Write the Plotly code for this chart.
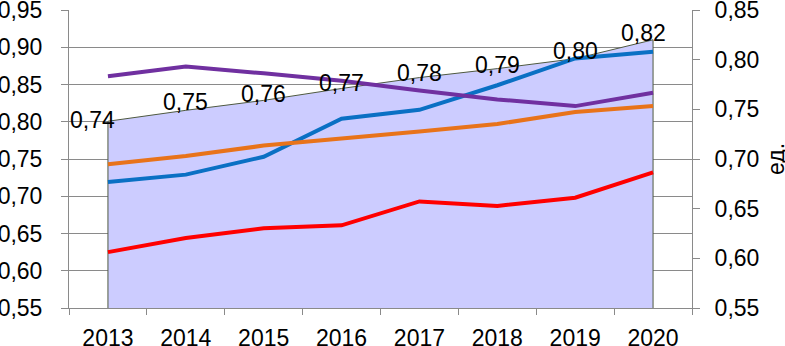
import plotly.graph_objects as go

YEARS = ["2013", "2014", "2015", "2016", "2017", "2018", "2019", "2020"]

# right axis (ед.) – area series
AREA = [0.738, 0.749, 0.759, 0.771, 0.782, 0.791, 0.801, 0.820]

# left axis – line series
BLUE = [0.719, 0.729, 0.753, 0.804, 0.816, 0.849, 0.885, 0.894]
ORANGE = [0.743, 0.754, 0.768, 0.777, 0.787, 0.797, 0.813, 0.821]
PURPLE = [0.861, 0.874, 0.865, 0.855, 0.842, 0.830, 0.821, 0.839]
RED = [0.625, 0.644, 0.657, 0.661, 0.693, 0.687, 0.698, 0.732]

LEFT_TICKS = [0.55, 0.60, 0.65, 0.70, 0.75, 0.80, 0.85, 0.90, 0.95]
RIGHT_TICKS = [0.55, 0.60, 0.65, 0.70, 0.75, 0.80, 0.85]
RIGHT_TITLE = "ед."

FONT = "Liberation Sans, Arial, sans-serif"
FS = 23
GRID = "#8a8a8a"
EPS = 1e-6

fig = go.Figure()

# area as closed polygon down to the right-axis minimum
y2min = RIGHT_TICKS[0]
fig.add_trace(go.Scatter(
    x=[YEARS[0]] + YEARS + [YEARS[-1]],
    y=[y2min] + AREA + [y2min],
    fill="toself", fillcolor="#CCCCFF",
    mode="lines", line=dict(color="#4f5a40", width=1),
    yaxis="y", hoverinfo="skip", showlegend=False,
))

for vals, col in [(BLUE, "#0A70C4"), (ORANGE, "#E8731A"), (PURPLE, "#7030A0"), (RED, "#FF0000")]:
    fig.add_trace(go.Scatter(
        x=YEARS, y=vals, mode="lines",
        line=dict(color=col, width=4),
        yaxis="y2", showlegend=False,
    ))

xshifts = [-15, 0, 0, 0, 0, 0, 0, -10]
yshifts = [1, 8, 6, 5, 5, 4, 8, 7]
for i, v in enumerate(AREA):
    fig.add_annotation(
        x=i, y=v, xref="x", yref="y",
        text=f"{v:.2f}".replace(".", ","), showarrow=False,
        xanchor="center", yanchor="middle",
        xshift=xshifts[i], yshift=yshifts[i],
        font=dict(family=FONT, size=FS, color="black"),
    )

fig.add_annotation(
    xref="paper", yref="paper", x=1, y=0.5, xanchor="center", yanchor="middle",
    xshift=84, text=RIGHT_TITLE, textangle=-90, showarrow=False,
    font=dict(family=FONT, size=FS, color="black"),
)

fig.update_layout(
    width=785, height=346,
    margin=dict(l=69, r=93, t=10, b=38, autoexpand=False),
    paper_bgcolor="white", plot_bgcolor="white",
    separators=", ",
    font=dict(family=FONT, size=FS, color="black"),
    showlegend=False,
    xaxis=dict(
        type="category", range=[-0.5, 7.5], tickson="boundaries",
        ticks="outside", ticklen=6, tickcolor=GRID, tickwidth=1,
        showline=True, linecolor=GRID, linewidth=1,
        showgrid=False, ticklabelstandoff=9, automargin=False,
        ticklabeloverflow="allow",
        tickfont=dict(family=FONT, size=FS),
    ),
    yaxis=dict(
        side="right", range=[0.55 - EPS, 0.85 + EPS], tickvals=RIGHT_TICKS, tickformat=".2f",
        ticks="outside", ticklen=7, tickcolor=GRID,
        showline=True, linecolor=GRID, showgrid=False, zeroline=False,
        ticklabelstandoff=10, automargin=False, ticklabeloverflow="allow",
        tickfont=dict(family=FONT, size=FS),
    ),
    yaxis2=dict(
        overlaying="y", side="left", range=[0.55 - EPS, 0.95 + EPS], tickvals=LEFT_TICKS,
        tickformat=".2f",
        ticks="outside", ticklen=7, tickcolor=GRID,
        showline=True, linecolor=GRID, showgrid=True, gridcolor=GRID, gridwidth=1,
        zeroline=False, ticklabelstandoff=14, automargin=False, ticklabeloverflow="allow",
        tickfont=dict(family=FONT, size=FS),
    ),
)

fig.write_html(
    "out.html",
    config={"displayModeBar": False},
    post_script="document.body.style.margin='0';",
)
